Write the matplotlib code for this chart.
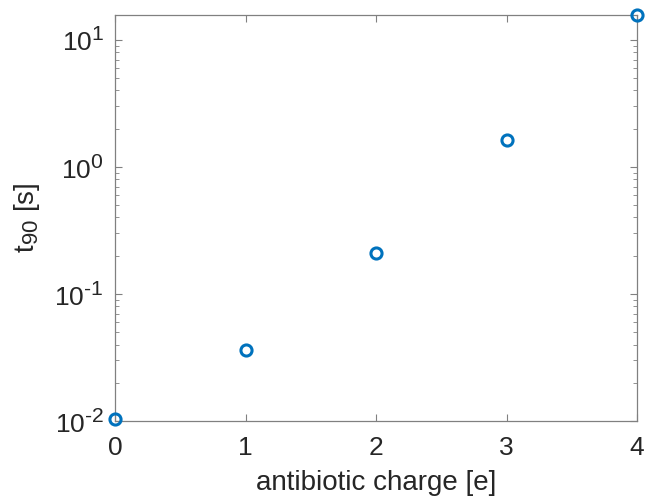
import math
import matplotlib
matplotlib.use("Agg")
import matplotlib.pyplot as plt
from matplotlib.ticker import FuncFormatter
import matplotlib._mathtext as mt

charge = [0, 1, 2, 3, 4]
t90 = [0.0104, 0.0362, 0.209, 1.63, 15.7]
xticks = [0, 1, 2, 3, 4]

mt.SHRINK_FACTOR = 0.8  # bigger superscripts, closer to the original
plt.rcParams['font.family'] = ['Liberation Sans', 'DejaVu Sans']
plt.rcParams['mathtext.fontset'] = 'custom'
plt.rcParams['mathtext.rm'] = 'Liberation Sans'
plt.rcParams['mathtext.it'] = 'Liberation Sans:italic'
plt.rcParams['mathtext.default'] = 'regular'
plt.rcParams['axes.unicode_minus'] = False
text_col = '#262626'
axis_col = '#808080'

fig = plt.figure(figsize=(6.46, 5.0), dpi=100)
ax = fig.add_axes([115 / 646, 1 - 421 / 500, (637 - 115) / 646, (421 - 15) / 500])

ax.plot(charge, t90, 'o', mfc='none', mec='#0072BD', mew=2.2, ms=8, clip_on=False, zorder=5)

ax.set_yscale('log')
ax.set_xlim(0, 4)
ax.set_ylim(0.01, 15.7)
ax.set_xticks(xticks)
ax.yaxis.set_major_formatter(FuncFormatter(
    lambda v, p: r'$\mathregular{10^{\text{%d}}}$' % round(math.log10(v))))

for s in ax.spines.values():
    s.set_color(axis_col)
    s.set_linewidth(0.9)
ax.tick_params(which='both', direction='in', top=True, right=True,
               colors=axis_col, labelcolor=text_col, labelsize=19)
ax.tick_params(which='major', length=5)
ax.tick_params(axis='x', pad=11)
ax.tick_params(axis='y', pad=8)
ax.tick_params(which='minor', length=3)
ax.tick_params(axis='x', which='minor', bottom=False, top=False)

ax.set_xlabel('antibiotic charge [e]', fontsize=20, color=text_col)
ax.xaxis.set_label_coords(0.5, -0.12)
ax.set_ylabel(r'$\mathregular{t_{90}}$ [s]', fontsize=20, color=text_col)
ax.yaxis.set_label_coords(-0.14, 0.5)

fig.savefig('out.png', dpi=100)
